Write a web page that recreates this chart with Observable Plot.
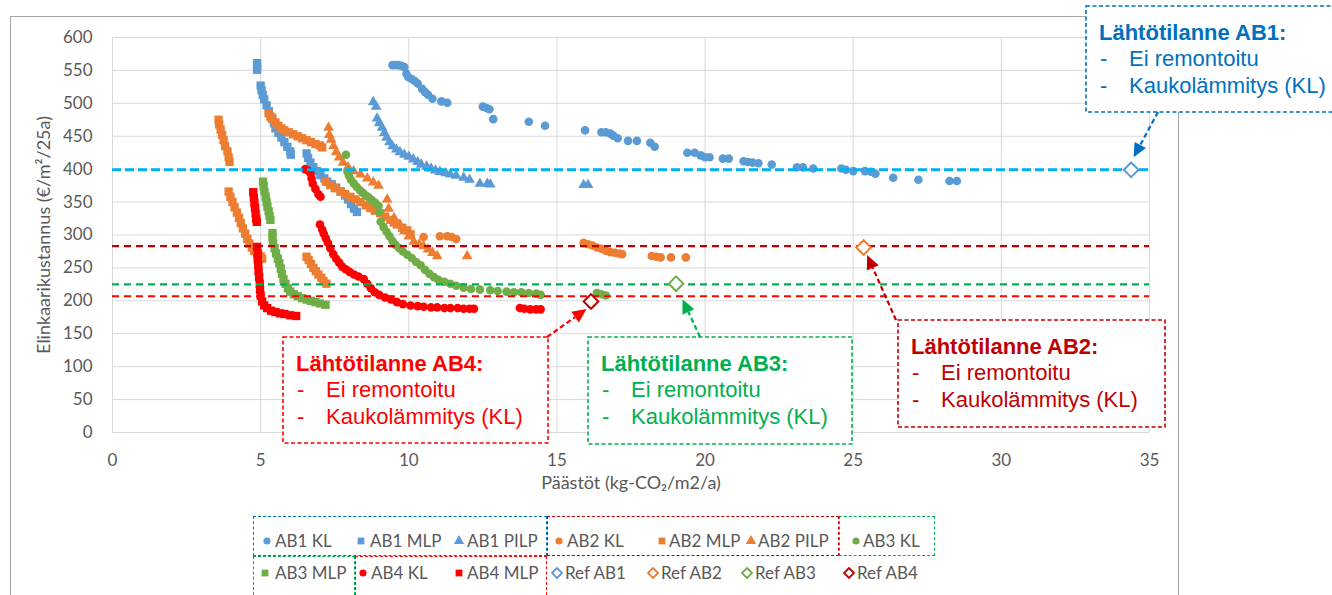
<!DOCTYPE html>
<html><head><meta charset="utf-8">
<script src="https://cdn.jsdelivr.net/npm/d3@7"></script>
<script src="https://cdn.jsdelivr.net/npm/@observablehq/plot@0.6"></script>
<style>
body{margin:0;background:#fff;}
#wrap{position:relative;width:1332px;height:595px;overflow:hidden;font-family:Lato,sans-serif;}
#frame{position:absolute;left:10px;top:16px;width:1169px;height:620px;border:1px solid #a6a6a6;box-sizing:border-box;}
#chart{position:absolute;left:0;top:0;}
#legend{position:absolute;left:0;top:505px;width:1332px;height:90px;}
.li{position:absolute;display:flex;align-items:center;font-size:17px;color:#595959;line-height:18px;white-space:nowrap;}
.lb{position:absolute;box-sizing:border-box;}
</style></head><body>
<div id="wrap"><div id="frame"></div><div id="chart"></div><div id="legend"></div></div>
<script>
// ---- data ----
const xTicks = [0, 5, 10, 15, 20, 25, 30, 35];
const yTicks = [0, 50, 100, 150, 200, 250, 300, 350, 400, 450, 500, 550, 600];
const xLabel = "Päästöt (kg-CO₂/m2/a)";
const yLabel = "Elinkaarikustannus (€/m²/25a)";

const ab1KL = [[9.45,558],[9.55,558],[9.65,558],[9.75,557],[9.85,555],[9.92,545],[9.98,540],[10.1,537],[10.2,534],[10.3,530],[10.45,522],[10.55,517],[10.65,513],[10.8,507],[11.1,503],[11.3,501],[12.5,495],[12.62,493],[12.72,491],[12.85,476],[14.05,472],[14.6,466],[15.95,459],[16.5,456],[16.65,456],[16.8,454],[16.9,451],[17.05,447],[17.4,443],[17.7,443],[18.15,440],[18.3,434],[19.4,425],[19.65,425],[19.85,421],[20.0,418],[20.15,418],[20.6,416],[20.8,416],[21.3,412],[21.45,411],[21.6,410],[21.8,409],[22.25,407],[23.1,403],[23.3,403],[23.65,401],[24.6,401],[24.75,399],[25.0,397],[25.4,397],[25.6,396],[25.75,393],[26.35,387],[27.2,384],[28.25,382],[28.5,382]];
const ab1MLP = [[4.88,561],[4.88,556],[4.88,551],[5.0,527],[5.03,520],[5.07,513],[5.12,506],[5.2,497],[5.28,488],[5.38,478],[5.45,470],[5.5,462],[5.6,455],[5.7,448],[5.8,441],[5.9,434],[6.0,427],[6.02,422],[6.55,424],[6.6,417],[6.68,410],[6.78,403],[6.9,397],[7.02,391],[7.15,386],[7.25,381],[7.4,377],[7.55,372],[7.7,366],[7.85,360],[7.95,354],[8.05,347],[8.15,340],[8.25,335]];
const ab1PILP = [[8.8,502],[8.9,495],[8.93,477],[9.0,470],[9.1,463],[9.18,455],[9.25,448],[9.35,441],[9.45,435],[9.58,430],[9.7,426],[9.85,422],[10.0,419],[10.15,415],[10.3,411],[10.42,407],[10.6,404],[10.75,401],[10.9,398],[11.05,396],[11.25,394],[11.4,392],[11.6,390],[11.85,387],[12.05,384],[12.4,378],[12.65,378],[12.75,377],[15.9,376],[16.05,376]];
const ab2KL = [[10.5,297],[11.05,298],[11.3,298],[11.45,297],[11.6,294],[15.9,288],[16.05,286],[16.2,284],[16.35,281],[16.5,279],[16.65,276],[16.8,274],[16.95,273],[17.1,272],[17.2,271],[18.2,268],[18.35,267],[18.5,266],[18.85,266],[19.35,266]];
const ab2MLP = [[3.58,475],[3.6,468],[3.65,460],[3.7,452],[3.75,444],[3.8,435],[3.88,427],[3.92,418],[3.95,411],
  [3.92,366],[3.98,358],[4.05,350],[4.12,342],[4.2,334],[4.27,326],[4.33,318],[4.4,310],[4.48,302],[4.55,294],[4.62,287],[4.7,281],[4.78,276],[4.88,272],[5.0,268],[5.05,264],
  [5.27,485],[5.33,480],[5.4,476],[5.5,471],[5.6,466],[5.7,462],[5.8,459],[5.95,456],[6.1,453],[6.25,450],[6.4,447],[6.55,444],[6.7,441],[6.85,438],[7.0,436],[7.08,433],
  [6.55,267],[6.62,262],[6.7,256],[6.78,250],[6.86,245],[6.95,240],[7.05,235],[7.12,230],[7.22,226],
  [7.2,381],[7.35,376],[7.5,371],[7.7,366],[7.85,362],[8.03,358],[8.2,354],[8.37,350],[8.55,345],[8.7,341],[8.85,337],[9.04,333],[9.2,328],[9.38,323],[9.5,319],[9.6,316],[9.78,311],[9.95,307],[10.06,301]];
const ab2PILP = [[7.29,463],[7.32,452],[7.38,445],[7.46,435],[7.55,426],[7.65,418],[7.78,410],[7.95,403],[8.14,397],[8.37,392],[8.6,386],[8.8,380],[8.98,375],[9.27,354],[9.32,340],[9.5,326],[9.7,316],[9.85,306],[10.0,298],[10.17,290],[10.35,286],[10.5,283],[10.65,278],[10.8,273],[10.96,268],[11.97,268]];
const ab3KL = [[7.88,422],[7.93,396],[7.98,390],[8.05,384],[8.15,378],[8.25,373],[8.35,368],[8.45,364],[8.55,360],[8.65,357],[8.75,353],[8.87,349],[8.98,344],[9.0,335],[9.05,320],[9.15,312],[9.25,305],[9.35,298],[9.45,291],[9.55,285],[9.68,280],[9.8,275],[9.95,270],[10.1,265],[10.25,259],[10.4,254],[10.55,247],[10.7,241],[10.85,236],[11.0,232],[11.2,229],[11.4,226],[11.6,223],[11.85,220],[12.1,218],[12.4,217],[12.75,216],[13.0,215],[13.3,214],[13.55,213],[13.8,213],[14.05,212],[14.3,211],[14.45,209],[16.35,212],[16.5,210],[16.65,208]];
const ab3MLP = [[5.08,381],[5.1,374],[5.13,366],[5.17,358],[5.2,350],[5.23,343],[5.27,336],[5.3,329],[5.33,323],[5.4,303],[5.4,296],[5.42,288],[5.47,280],[5.52,272],[5.58,264],[5.63,257],[5.68,249],[5.72,241],[5.77,233],[5.84,226],[5.92,219],[6.0,214],[6.12,210],[6.25,207],[6.4,204],[6.55,202],[6.7,200],[6.85,198],[7.0,196],[7.19,194]];
const ab4KL = [[6.5,400],[6.6,398],[6.68,394],[6.72,386],[6.76,378],[6.85,370],[6.95,362],[7.02,358],
  [7.0,316],[7.08,308],[7.13,302],[7.2,295],[7.27,288],[7.35,280],[7.45,271],[7.55,264],[7.65,258],[7.75,252],[7.87,248],[8.0,244],[8.15,240],[8.3,237],[8.48,233],[8.6,226],[8.72,219],[8.85,213],[9.0,209],[9.2,205],[9.4,202],[9.6,198],[9.8,195],[10.06,193],[10.3,192],[10.5,191],[10.75,190],[10.96,190],[11.2,189],[11.4,189],[11.65,189],[11.85,188],[12.05,188],[12.2,188],[13.75,189],[13.9,188],[14.1,187],[14.3,187],[14.45,187]];
const ab4MLP = [[4.75,365],[4.77,357],[4.79,349],[4.81,341],[4.83,333],[4.85,325],[4.87,320],[4.88,282],[4.9,272],[4.9,263],[4.92,254],[4.93,245],[4.95,236],[4.97,226],[4.98,217],[5.0,208],[5.05,199],[5.12,193],[5.22,189],[5.35,185],[5.5,183],[5.65,181],[5.8,180],[6.0,178],[6.2,177]];

const seriesNames = ["AB1 KL","AB1 MLP","AB1 PILP","AB2 KL","AB2 MLP","AB2 PILP","AB3 KL","AB3 MLP","AB4 KL","AB4 MLP"];
const seriesData = [ab1KL, ab1MLP, ab1PILP, ab2KL, ab2MLP, ab2PILP, ab3KL, ab3MLP, ab4KL, ab4MLP];
const seriesColors = ["#5B9BD5","#5B9BD5","#5B9BD5","#ED7D31","#ED7D31","#ED7D31","#70AD47","#70AD47","#FF0000","#FF0000"];
const seriesSymbols = ["circle","square","triangle","circle","square","triangle","circle","square","circle","square"];

const refNames = ["Ref AB1","Ref AB2","Ref AB3","Ref AB4"];
const refX = [34.38, 25.35, 19.02, 16.15];
const refY = [399, 281, 226, 199];
const refColors = ["#5B9BD5","#ED7D31","#70AD47","#C00000"];
const refLineValues = [399, 283, 225, 207];
const refLineColors = ["#00B0F0","#C00000","#00B050","#FF0000"];

const annTitles = ["Lähtötilanne AB1:","Lähtötilanne AB2:","Lähtötilanne AB3:","Lähtötilanne AB4:"];
const annLines = ["Ei remontoitu","Kaukolämmitys (KL)"];
const annColors = ["#0070C0","#C00000","#00B050","#FF0000"];

// ---- layout (pixels) ----
const symbolR = {circle: 4.3, square: 4.7, triangle: 4.0};
const annBoxes = [[1086,6,262,106],[898,320,267,107],[588,337,264,107],[283,337,265,106]];
const annStart = [[1158,112],[896,320],[700,337],[547,337]];
const annTip = [[3,-12],[4,8],[7,16],[-4,8]];

const marks = [
  Plot.gridX(xTicks, {stroke: "#d9d9d9", strokeOpacity: 1}),
  Plot.gridY(yTicks, {stroke: "#d9d9d9", strokeOpacity: 1}),
  Plot.axisX(xTicks, {tickSize: 0, tickPadding: 21, label: null, fontSize: 17}),
  Plot.axisY(yTicks, {tickSize: 0, tickPadding: 20, label: null, fontSize: 17}),
  Plot.text([xLabel], {frameAnchor: "bottom", dy: 56, fontSize: 18, fill: "#595959"}),
  Plot.text([yLabel], {frameAnchor: "left", textAnchor: "middle", dx: -68, rotate: -90, fontSize: 18, fill: "#595959"})
];
seriesData.forEach((data, i) => {
  marks.push(Plot.dot(data, {x: d => d[0], y: d => d[1], symbol: seriesSymbols[i], r: symbolR[seriesSymbols[i]], fill: seriesColors[i], stroke: "none"}));
});
refLineValues.forEach((v, i) => {
  marks.push(Plot.ruleY([v], {stroke: refLineColors[i], strokeWidth: i === 0 ? 3 : 2.2, strokeDasharray: i === 0 ? "9,4" : "7,5"}));
});
const refRows = refNames.map((n, i) => ({name: n, x: refX[i], y: refY[i], color: refColors[i]}));
marks.push(Plot.dot(refRows, {x: "x", y: "y", symbol: "diamond2", r: 6.6, fill: "white", stroke: "color", strokeWidth: 2}));

const plot = Plot.plot({
  width: 1332, height: 505,
  marginLeft: 112, marginRight: 183, marginTop: 37, marginBottom: 73,
  style: {fontFamily: "Lato, sans-serif", fontSize: "16px", color: "#595959", background: "none", overflow: "visible"},
  x: {domain: [0, 35]},
  y: {domain: [0, 600]},
  marks
});
document.getElementById("chart").appendChild(plot);

// ---- annotations ----
const sx = plot.scale("x"), sy = plot.scale("y");
const svg = d3.select(plot);
const g = svg.append("g").attr("font-family", "'Liberation Sans', Arial, sans-serif").attr("text-anchor", "start");
annTitles.forEach((t, i) => {
  const [bx, by, bw, bh] = annBoxes[i];
  const c = annColors[i];
  g.append("rect").attr("x", bx).attr("y", by).attr("width", bw).attr("height", bh)
    .attr("fill", "white").attr("stroke", c).attr("stroke-width", 1.6).attr("stroke-dasharray", "4,2.5");
  g.append("text").attr("x", bx + 13).attr("y", by + 34).attr("fill", c).attr("font-size", 22).attr("font-weight", "bold").text(t);
  annLines.forEach((l, j) => {
    g.append("text").attr("x", bx + 14).attr("y", by + 60 + j * 27).attr("fill", c).attr("font-size", 22).text("-");
    g.append("text").attr("x", bx + 43).attr("y", by + 60 + j * 27).attr("fill", c).attr("font-size", 22).text(l);
  });
  const [x0, y0] = annStart[i];
  const x1 = sx.apply(refX[i]) + annTip[i][0], y1 = sy.apply(refY[i]) + annTip[i][1];
  const ang = Math.atan2(y1 - y0, x1 - x0), hl = 14, hw = 6.5;
  const bxp = x1 - hl * Math.cos(ang), byp = y1 - hl * Math.sin(ang);
  g.append("line").attr("x1", x0).attr("y1", y0).attr("x2", bxp).attr("y2", byp)
    .attr("stroke", c).attr("stroke-width", 2.2).attr("stroke-dasharray", "5,3");
  const px = -Math.sin(ang), py = Math.cos(ang);
  g.append("path").attr("d", `M${x1},${y1}L${bxp + px * hw},${byp + py * hw}L${bxp - px * hw},${byp - py * hw}Z`).attr("fill", c);
});

// ---- legend ----
const legendItems = [
  ...seriesNames.map((n, i) => ({name: n, color: seriesColors[i], symbol: seriesSymbols[i], ref: false})),
  ...refNames.map((n, i) => ({name: n, color: refColors[i], symbol: "diamond2", ref: true}))
];
const legendPos = [[267,275,0],[361,370,0],[459,467,0],[559,567,0],[662,669,0],[751,758,0],[856,863,0],
  [265,275,1],[363,371,1],[459,467,1],[557,565,1],[653,661,1],[747,755,1],[849,857,1]];
const rowY = [36, 68];
const leg = document.getElementById("legend");
const symMap = {circle: d3.symbolCircle, square: d3.symbolSquare, triangle: d3.symbolTriangle, diamond2: d3.symbolDiamond2};
const symSize = {circle: 40, square: 46, triangle: 46, diamond2: 64};
legendItems.forEach((it, i) => {
  const [mx, tx, row] = legendPos[i];
  const div = document.createElement("div");
  div.className = "li";
  div.style.left = (mx - 7) + "px";
  div.style.top = (rowY[row] - 9) + "px";
  const s = d3.create("svg").attr("width", 14).attr("height", 18);
  s.append("path").attr("transform", "translate(7,9)")
    .attr("d", d3.symbol(symMap[it.symbol], symSize[it.symbol])())
    .attr("fill", it.ref ? "white" : it.color).attr("stroke", it.ref ? it.color : "none").attr("stroke-width", 1.8);
  div.appendChild(s.node());
  const sp = document.createElement("span");
  sp.style.marginLeft = (tx - mx - 7) + "px";
  sp.textContent = it.name;
  div.appendChild(sp);
  leg.appendChild(div);
});
const legendBoxes = [[253,11,294,40,"#0070C0"],[547,11,292,40,"#C00000"],[839,11,96,40,"#00B050"],[253,51,102,60,"#00B050"],[355,51,192,60,"#FF0000"]];
legendBoxes.forEach(([x, y, w, h, c]) => {
  const b = document.createElement("div");
  b.className = "lb";
  Object.assign(b.style, {left: x + "px", top: y + "px", width: w + "px", height: h + "px", border: `1.5px dashed ${c}`});
  leg.appendChild(b);
});
</script>
</body></html>
